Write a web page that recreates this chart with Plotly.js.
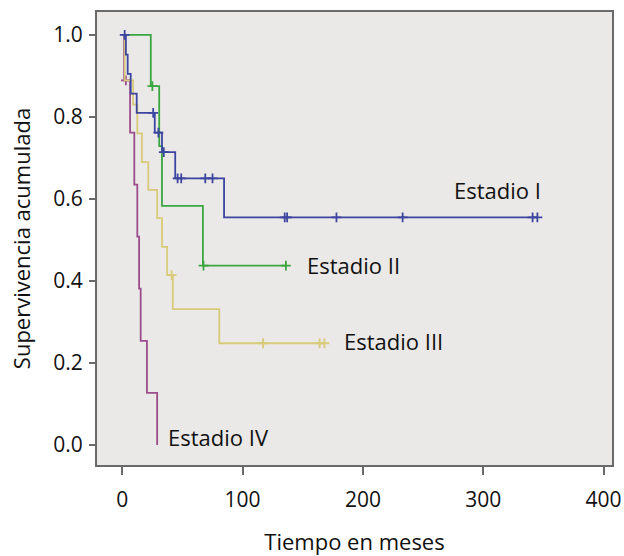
<!DOCTYPE html>
<html>
<head>
<meta charset="utf-8">
<script src="https://cdn.plot.ly/plotly-3.0.1.min.js"></script>
<style>html,body{margin:0;padding:0;background:#fff;}#chart{width:624px;height:556px;}</style>
</head>
<body>
<div id="chart"></div>
<script>
// Estadio I
var t1 = [0, 3, 4.5, 7, 12, 27, 33, 44, 84.6, 345];
var s1 = [1, 0.952, 0.905, 0.857, 0.81, 0.762, 0.714, 0.65, 0.555, 0.555];
var c1 = [2, 25.7, 30, 34.5, 46, 49, 69, 75, 135, 137, 178, 233, 341, 345];
// Estadio II
var t2 = [0, 23.7, 30.7, 33, 67, 136];
var s2 = [1, 0.875, 0.729, 0.583, 0.4375, 0.4375];
var c2 = [25, 67.5, 136];
// Estadio III
var t3 = [0, 2, 9, 12.5, 16.3, 21.6, 29, 33, 37.3, 42, 80.6, 168];
var s3 = [1, 0.889, 0.83, 0.76, 0.69, 0.622, 0.553, 0.483, 0.414, 0.331, 0.248, 0.248];
var c3 = [41, 117, 164, 168];
// Estadio IV
var t4 = [0, 1.5, 6.5, 10, 12.5, 14, 15.3, 20.5, 29];
var s4 = [1, 0.889, 0.762, 0.635, 0.508, 0.381, 0.254, 0.127, 0];
var c4 = [3];

var names = ["Estadio I", "Estadio II", "Estadio III", "Estadio IV"];
var colors = ["#3c45a0", "#3aa640", "#d8ca78", "#9a4d8a"];
var labelX = [274, 152, 183, 36.5];
var labelY = [0.622, 0.439, 0.254, 0.02];

var xTicks = [0, 100, 200, 300, 400];
var yTicks = [0.0, 0.2, 0.4, 0.6, 0.8, 1.0];

function stepAt(ts, ss, t) {
  var v = ss[0];
  for (var i = 0; i < ts.length; i++) { if (ts[i] <= t) v = ss[i]; }
  return v;
}

var series = [[t1, s1, c1], [t2, s2, c2], [t3, s3, c3], [t4, s4, c4]];
var traces = [];
[3, 2, 1, 0].forEach(function (k) {
  var ts = series[k][0], ss = series[k][1], cs = series[k][2];
  traces.push({
    x: ts, y: ss, type: 'scatter', mode: 'lines',
    line: {shape: 'hv', color: colors[k], width: 1.8},
    hoverinfo: 'skip', showlegend: false
  });
  traces.push({
    x: cs, y: cs.map(function (t) { return stepAt(ts, ss, t); }),
    type: 'scatter', mode: 'markers',
    marker: {symbol: 'cross-thin-open', size: 7, color: colors[k], line: {color: colors[k], width: 1.8}},
    hoverinfo: 'skip', showlegend: false
  });
});

var annotations = names.map(function (n, k) {
  return {x: labelX[k], y: labelY[k], xref: 'x', yref: 'y', text: n, showarrow: false,
    xanchor: 'left', yanchor: 'middle', font: {family: 'Open Sans, sans-serif', size: 22, color: '#111'}};
});

var layout = {
  width: 624, height: 556,
  margin: {l: 97, r: 12, t: 12, b: 91},
  paper_bgcolor: '#ffffff', plot_bgcolor: '#ebe9e7',
  font: {family: 'Open Sans, sans-serif', size: 21, color: '#111'},
  xaxis: {
    range: [-21, 407], tickvals: xTicks, ticktext: xTicks.map(String),
    showgrid: false, zeroline: false, showline: true, mirror: true,
    linecolor: '#6a6a6a', linewidth: 2, ticks: 'outside', ticklen: 8, tickwidth: 2, tickcolor: '#6a6a6a',
    ticklabelstandoff: 7,
    title: {text: 'Tiempo en meses', font: {size: 22}, standoff: 22}
  },
  yaxis: {
    range: [-0.049, 1.056], tickvals: yTicks, ticktext: yTicks.map(function (v) { return v.toFixed(1); }),
    showgrid: false, zeroline: false, showline: true, mirror: true,
    linecolor: '#6a6a6a', linewidth: 2, ticks: 'outside', ticklen: 6, tickwidth: 2, tickcolor: '#6a6a6a',
    ticklabelstandoff: 2,
    title: {text: 'Supervivencia acumulada', font: {size: 22}, standoff: 17}
  },
  annotations: annotations
};

Plotly.newPlot('chart', traces, layout, {displayModeBar: false, staticPlot: true});
</script>
</body>
</html>
